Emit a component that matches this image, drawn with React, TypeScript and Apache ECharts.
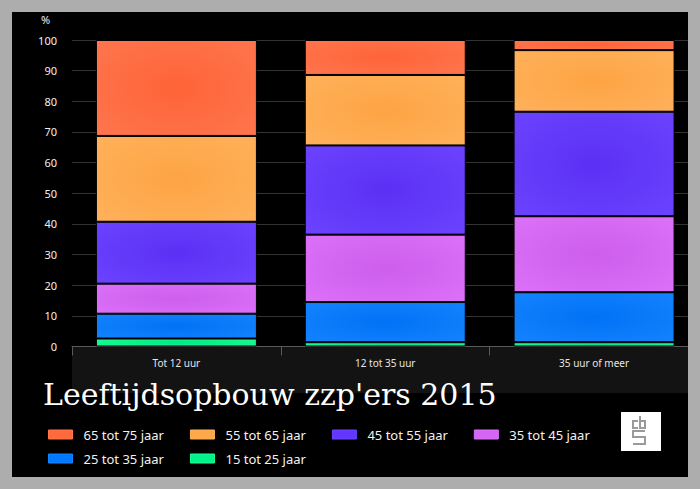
import React, { useEffect, useRef } from "react";
import * as echarts from "echarts";

const categories = ["Tot 12 uur", "12 tot 35 uur", "35 uur of meer"];
const seriesNames = ["15 tot 25 jaar", "25 tot 35 jaar", "35 tot 45 jaar", "45 tot 55 jaar", "55 tot 65 jaar", "65 tot 75 jaar"];
const v15_25 = [2.6, 1.4, 1.4];
const v25_35 = [8.1, 13.1, 16.3];
const v35_45 = [9.8, 22.0, 24.8];
const v45_55 = [20.2, 29.1, 34.1];
const v55_65 = [28.0, 23.0, 20.1];
const v65_75 = [31.3, 11.4, 3.3];
const seriesValues = [v15_25, v25_35, v35_45, v45_55, v55_65, v65_75];
const yTicks = [0, 10, 20, 30, 40, 50, 60, 70, 80, 90, 100];
const legendRow1 = ["65 tot 75 jaar", "55 tot 65 jaar", "45 tot 55 jaar", "35 tot 45 jaar"];
const legendRow2 = ["25 tot 35 jaar", "15 tot 25 jaar"];
const title = "Leeftijdsopbouw zzp'ers 2015";

const colors = ["#00f08a", "#0078ff", "#d566f3", "#6236ff", "#ffa84a", "#ff693c"];
const centerColors = ["#00e884", "#0072f5", "#cc5eeb", "#5c30f5", "#fda444", "#fe6436"];
const edgeColors = ["#20ff98", "#1584ff", "#dd72fa", "#6c44ff", "#ffb25c", "#ff7650"];

export default function App() {
  const ref = useRef<HTMLDivElement>(null);
  useEffect(() => {
    if (!ref.current) return;
    const chart = echarts.init(ref.current, undefined, { renderer: "svg" });
    const font = "Noto Sans";
    const legendBase = {
      itemWidth: 24,
      itemHeight: 9,
      itemGap: 26,
      padding: 0,
      icon: "rect",
      selectedMode: false,
      textStyle: { color: "#f2f2f2", fontSize: 13, fontFamily: font, padding: [0, 0, 0, 6] },
    };
    const legendData = (names: string[]) =>
      names.map((n) => {
        const i = seriesNames.indexOf(n);
        return { name: n, itemStyle: { color: colors[i], borderColor: edgeColors[i], borderWidth: 1 } };
      });
    chart.setOption({
      animation: false,
      backgroundColor: "transparent",
      title: {
        text: title,
        left: 38,
        top: 374,
        textStyle: { fontFamily: "DejaVu Serif", fontWeight: "normal", fontSize: 30, color: "#ffffff" },
      },
      legend: [
        { ...legendBase, left: 48, top: 428, data: legendData(legendRow1) },
        { ...legendBase, left: 48, top: 452, data: legendData(legendRow2) },
      ],
      grid: { left: 72, top: 40, right: 1.5, height: 306.5, containLabel: false },
      xAxis: {
        type: "category",
        data: categories,
        axisLine: { lineStyle: { color: "#5a5a5a", width: 1 } },
        axisTick: { show: true, length: 9, lineStyle: { color: "#5a5a5a" } },
        axisLabel: { color: "#e6e6e6", fontSize: 10, fontFamily: font, margin: 11 },
        splitLine: { show: false },
      },
      yAxis: {
        type: "value",
        min: yTicks[0],
        max: yTicks[yTicks.length - 1],
        interval: 10,
        axisLine: { show: false },
        axisTick: { show: false },
        axisLabel: { color: "#f0f0f0", fontSize: 11, fontFamily: font, margin: 15 },
        splitLine: { lineStyle: { color: "#333333", width: 1 } },
      },
      graphic: [
        { type: "rect", z: -10, silent: true, shape: { x: 72, y: 347, width: 640, height: 46 }, style: { fill: "#131313" } },
        { type: "text", x: 41, y: 14, style: { text: "%", fill: "#f0f0f0", font: "11px 'Noto Sans'" } },
        { type: "rect", shape: { x: 621, y: 412, width: 40, height: 39 }, style: { fill: "#ffffff" } },
        { type: "polyline", shape: { points: [[638, 421], [633, 421], [633, 428], [638, 428]] }, style: { stroke: "#9a9a9a", lineWidth: 2, fill: null } },
        { type: "polyline", shape: { points: [[640, 416], [640, 428], [645, 428], [645, 421], [640, 421]] }, style: { stroke: "#9a9a9a", lineWidth: 2, fill: null } },
        { type: "polyline", shape: { points: [[645, 431], [633, 431], [633, 437], [645, 437], [645, 444], [633, 444]] }, style: { stroke: "#9a9a9a", lineWidth: 2, fill: null } },
      ],
      series: seriesNames.map((name, i) => ({
        name,
        type: "bar",
        stack: "total",
        barWidth: 161,
        data: seriesValues[i],
        itemStyle: {
          color: new echarts.graphic.RadialGradient(0.5, 0.5, 0.75, [
            { offset: 0, color: centerColors[i] },
            { offset: 1, color: edgeColors[i] },
          ]),
          borderColor: "#000000",
          borderWidth: 1,
        },
      })),
    });
    return () => chart.dispose();
  }, []);
  return (
    <div style={{ position: "fixed", left: 0, top: 0, width: 700, height: 489, background: "#adadad" }}>
      <div style={{ position: "absolute", left: 12, top: 12, width: 676, height: 465, background: "#000", overflow: "hidden" }}>
        <div ref={ref} style={{ position: "absolute", left: -12, top: -12, width: 700, height: 489 }} />
      </div>
    </div>
  );
}
